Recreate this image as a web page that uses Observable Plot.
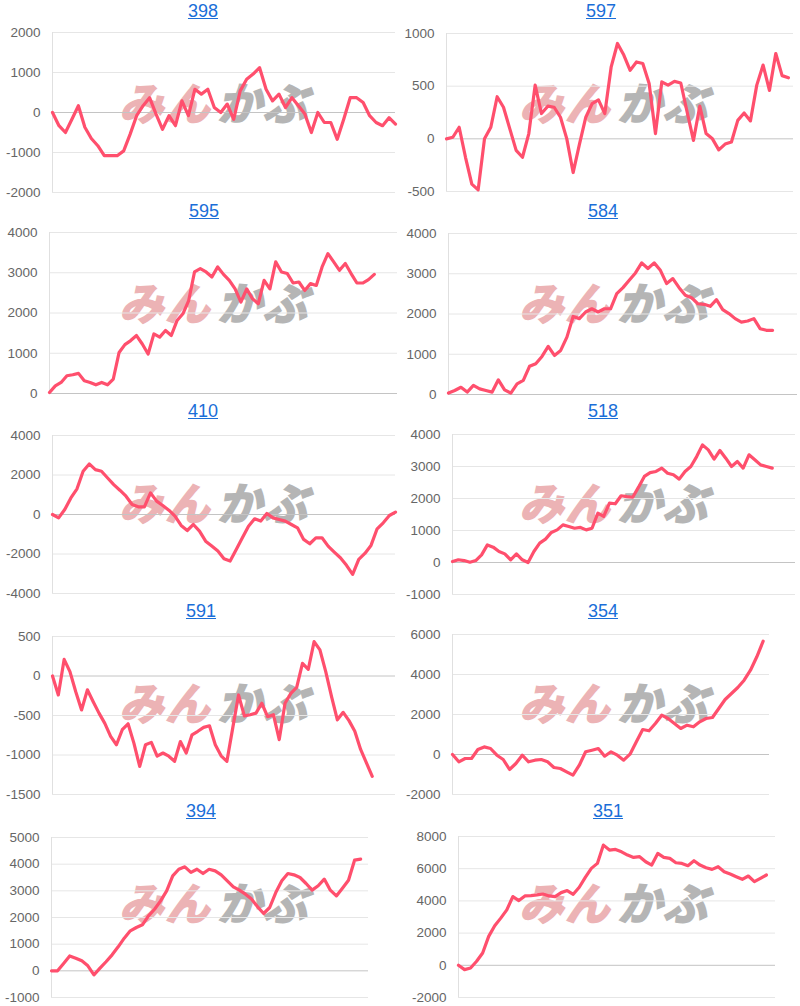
<!DOCTYPE html>
<html><head><meta charset="utf-8">
<script src="https://cdn.jsdelivr.net/npm/d3@7"></script>
<script src="https://cdn.jsdelivr.net/npm/@observablehq/plot@0.6"></script>
<style>
body{margin:0;background:#fff;font-family:Arial,"Liberation Sans",sans-serif;}
#grid{position:relative;width:800px;height:1006px;overflow:hidden;}
.panel{position:absolute;width:400px;height:200px;}
.panel svg{position:absolute;left:0;top:0;}
.title{position:absolute;top:1px;font-size:18px;line-height:20px;color:#1a6ed8;text-decoration:underline;transform:translateX(-50%);white-space:nowrap;}
.wm{position:absolute;left:124px;top:79px;font-family:"Noto Sans CJK JP","Noto Sans CJK SC",sans-serif;font-weight:700;font-size:44px;line-height:44px;white-space:nowrap;transform:skewX(-14deg);letter-spacing:2px;-webkit-text-stroke:2px currentColor;}
.wm .a{color:#ecb3b5;}
.wm .b{color:#b5b5b5;margin-left:6px;}
</style>
</head><body>
<div id="grid"></div>
<script>
// ---- data ----
const titles = ["398","597","595","584","410","518","591","354","394","351"];

const s398 = [0,-330,-500,-170,170,-370,-650,-830,-1080,-1080,-1080,-960,-540,-80,170,370,-40,-420,-80,-330,290,-80,580,460,580,125,0,210,-170,540,830,960,1120,580,290,460,125,370,170,-40,-500,0,-250,-250,-670,-170,370,370,250,-80,-250,-330,-130,-290];
const s597 = [0,15,110,-175,-430,-485,0,110,400,300,95,-110,-175,50,510,240,310,300,205,0,-320,-50,205,335,370,240,680,905,795,650,730,715,525,50,540,510,545,530,255,-15,310,50,0,-105,-50,-30,175,245,170,510,700,460,810,600,580];
const s595 = [25,190,275,440,465,500,315,275,215,275,215,360,1020,1215,1315,1440,1230,980,1480,1400,1565,1440,1815,1980,2310,3020,3100,3020,2895,3145,2960,2810,2600,2270,2600,2355,2230,2810,2600,3270,3020,2980,2745,2770,2560,2730,2685,3145,3475,3270,3060,3230,2980,2745,2745,2830,2960];
const s584 = [35,100,180,60,225,140,100,60,365,115,35,265,350,700,765,945,1195,970,1095,1425,1940,1885,2050,2130,2050,2130,2130,2505,2655,2840,3020,3270,3130,3270,3085,2755,2880,2655,2465,2405,2255,2240,2190,2355,2110,2010,1885,1800,1825,1885,1635,1595,1595];
const s410 = [0,-170,250,840,1300,2190,2560,2270,2190,1850,1515,1230,925,505,390,390,1095,675,455,220,-85,-555,-810,-505,-840,-1350,-1600,-1850,-2240,-2360,-1770,-1180,-590,-220,-335,50,-170,-250,-335,-505,-675,-1260,-1480,-1180,-1180,-1600,-1900,-2190,-2575,-3030,-2270,-1970,-1565,-725,-420,-50,120];
const s518 = [30,85,60,10,60,240,550,480,345,270,85,270,85,0,345,605,730,940,1020,1175,1125,1070,1095,1020,1070,1540,1440,1855,1835,2085,2060,2040,2355,2690,2810,2845,2950,2790,2740,2605,2845,3000,3310,3675,3520,3230,3500,3260,3000,3155,2950,3365,3210,3050,3000,2950];
const s591 = [0,-240,210,55,-200,-430,-175,-325,-470,-600,-765,-870,-680,-605,-850,-1145,-870,-840,-1015,-975,-1015,-1080,-830,-975,-745,-700,-650,-630,-870,-1010,-1080,-660,-240,-505,-490,-470,-345,-515,-490,-805,-345,-220,-145,160,85,435,330,55,-260,-555,-460,-565,-700,-930,-1100,-1270];
const s354 = [0,-365,-200,-200,250,380,300,-35,-250,-750,-450,-35,-365,-285,-250,-365,-650,-700,-870,-1035,-535,135,215,300,-85,135,-35,-285,15,635,1250,1185,1550,1965,1800,1550,1300,1465,1385,1635,1800,1850,2300,2750,3050,3350,3715,4215,4885,5665];
const s394 = [0,0,275,560,475,375,190,-150,100,340,600,900,1225,1500,1625,1725,2060,2310,2625,3000,3560,3810,3900,3690,3810,3650,3810,3750,3600,3375,3150,3025,2875,2690,2400,2150,2375,2935,3375,3650,3600,3500,3275,3025,3190,3440,3025,2810,3100,3400,4150,4190];
const s351 = [0,-270,-165,250,760,1795,2455,2930,3445,4270,4020,4310,4330,4370,4430,4310,4270,4515,4640,4410,4845,5465,6020,6330,7465,7155,7195,7050,6845,6700,6745,6430,6225,6950,6700,6640,6370,6330,6185,6495,6225,6060,5960,6125,5815,5670,5505,5340,5545,5195,5400,5610];

const series = [s398,s597,s595,s584,s410,s518,s591,s354,s394,s351];

const yTicks = [
  [-2000,-1000,0,1000,2000],
  [-500,0,500,1000],
  [0,1000,2000,3000,4000],
  [0,1000,2000,3000,4000],
  [-4000,-2000,0,2000,4000],
  [-1000,0,1000,2000,3000,4000],
  [-1500,-1000,-500,0,500],
  [-2000,0,2000,4000,6000],
  [-1000,0,1000,2000,3000,4000,5000],
  [-2000,0,2000,4000,6000,8000]
];

// ---- layout (pixels within each 400x200 panel) ----
const layout = [
  {left:52, right:395, top:32, bottom:192, xmax:53,   tx:203},
  {left:46, right:393, top:33, bottom:191, xmax:54.8, tx:201},
  {left:49, right:397, top:32, bottom:193, xmax:60,   tx:204},
  {left:48, right:397, top:33, bottom:194, xmax:56,   tx:203},
  {left:52, right:395, top:35, bottom:193, xmax:56,   tx:203},
  {left:52, right:395, top:34, bottom:194, xmax:59,   tx:203},
  {left:52, right:395, top:36, bottom:194, xmax:59,   tx:201},
  {left:52, right:369, top:34, bottom:194, xmax:50,   tx:203},
  {left:51, right:368, top:37, bottom:197, xmax:52.3, tx:201},
  {left:58, right:375, top:36, bottom:197, xmax:52.5, tx:208}
];

const grid = document.getElementById("grid");
series.forEach((data, k) => {
  const L = layout[k];
  const ticks = yTicks[k];
  const panel = document.createElement("div");
  panel.className = "panel";
  panel.style.left = (k % 2) * 400 + "px";
  panel.style.top = Math.floor(k / 2) * 200 + "px";
  if (k >= 8) panel.style.height = "206px";

  const wm = document.createElement("div");
  wm.className = "wm";
  wm.innerHTML = '<span class="a">みん</span><span class="b">かぶ</span>';
  panel.appendChild(wm);

  const svg = Plot.plot({
    width: 400,
    height: 200,
    marginTop: L.top,
    marginBottom: 200 - L.bottom,
    marginLeft: L.left,
    marginRight: 400 - L.right,
    x: {domain: [0, L.xmax], axis: null},
    y: {domain: d3.extent(ticks), ticks: ticks, tickSize: 0, tickPadding: 12, tickFormat: d => String(d), label: null},
    style: {background: "transparent", fontSize: "13.5px", fontFamily: "Arial, 'Liberation Sans', sans-serif", color: "#666666", overflow: "visible"},
    marks: [
      Plot.ruleY(ticks.filter(t => t !== 0), {stroke: "#e6e6e6", strokeWidth: 1}),
      Plot.ruleY([0], {stroke: "#c4c4c4", strokeWidth: 1}),
      Plot.ruleX([0], {stroke: "#e0e0e0", strokeWidth: 1}),
      Plot.line(data, {x: (d, i) => i, y: d => d, stroke: "#ff4f6d", strokeWidth: 3.2, strokeLinejoin: "round", strokeLinecap: "round"})
    ]
  });
  panel.appendChild(svg);

  const t = document.createElement("div");
  t.className = "title";
  t.style.left = L.tx + "px";
  t.textContent = titles[k];
  panel.appendChild(t);

  grid.appendChild(panel);
});
</script>
</body></html>
